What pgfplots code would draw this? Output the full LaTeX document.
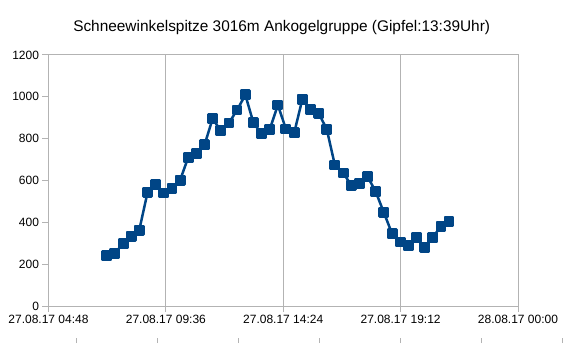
\documentclass[border=0pt]{standalone}
\usepackage{pgfplots}
\pgfplotsset{compat=1.18}
\usepackage{fontspec}
\setmainfont{Liberation Sans}
\definecolor{series}{HTML}{004586}
\definecolor{gridgray}{HTML}{B3B3B3}
\definecolor{boxgray}{HTML}{CCCCCC}
\begin{document}
\begin{tikzpicture}[x=1pt,y=1pt]
\path[use as bounding box] (-48.5,-37) rectangle (519.5,306);
\begin{axis}[
  at={(0,0)}, anchor=south west,
  scale only axis, width=469.5pt, height=251pt,
  xmin=4.8, xmax=24, ymin=0, ymax=1200,
  xtick={4.8,9.6,14.4,19.2,24},
  xticklabels={27.08.17 04:48, 27.08.17 09:36, 27.08.17 14:24, 27.08.17 19:12, 28.08.17 00:00},
  ytick={0,200,400,600,800,1000,1200},
  axis line style={gridgray, line width=1pt},
  xmajorgrids, major grid style={gridgray, line width=1pt},
  tick style={gridgray, line width=1pt},
  tick align=outside, major tick length=6pt,
  xtick pos=lower, ytick pos=left,
  ticklabel style={font=\fontsize{12}{14}\selectfont, text=black},
  /pgf/number format/assume math mode=true,
  /pgf/number format/1000 sep={},
  clip=false,
]
\addplot[series, line width=2.5pt, line join=round, mark=square*, mark size=4.2pt, mark options={solid, fill=series}] coordinates {
(7.18,240) (7.51,252) (7.85,298) (8.18,333) (8.51,362) (8.85,543) (9.18,580) (9.51,540) (9.85,563) (10.18,601)
(10.51,709) (10.85,728) (11.18,770) (11.51,895) (11.85,838) (12.18,875) (12.51,937) (12.85,1009) (13.18,876) (13.51,824)
(13.85,845) (14.18,961) (14.51,846) (14.85,829) (15.18,988) (15.51,940) (15.85,921) (16.18,845) (16.51,674) (16.85,636)
(17.18,578) (17.51,585) (17.85,618) (18.18,547) (18.51,448) (18.85,346) (19.18,306) (19.51,288) (19.85,328) (20.18,280)
(20.51,327) (20.85,382) (21.18,406)
};
\end{axis}
\node[anchor=base, font=\fontsize{15.4}{18}\selectfont] at (233.2,274.5) {Schneewinkelspitze 3016m Ankogelgruppe (Gipfel:13:39Uhr)};
\foreach \xx in {27.5,108.5,189.5,270.5,351.5,432.5,513.5} \draw[gridgray, line width=1pt] (\xx,-37) -- (\xx,-32);
\end{tikzpicture}
\end{document}
